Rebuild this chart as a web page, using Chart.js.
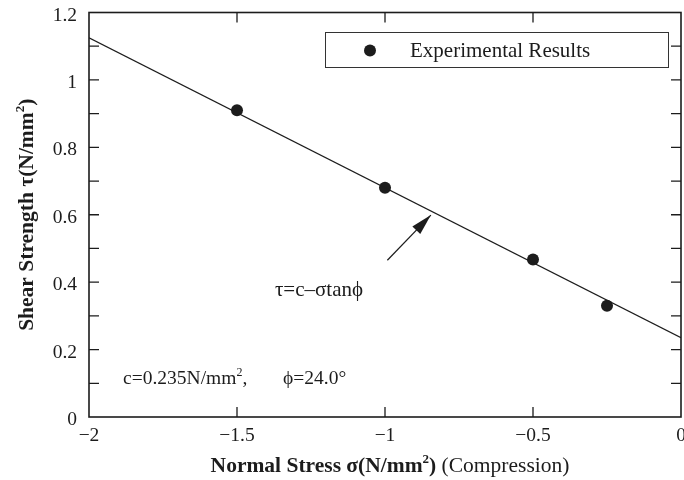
<!DOCTYPE html>
<html>
<head>
<meta charset="utf-8">
<script src="https://cdn.jsdelivr.net/npm/chart.js@4"></script>
<style>
  html, body { margin: 0; padding: 0; background: #fff; overflow: hidden; }
  #wrap { width: 687px; height: 480px; }
</style>
</head>
<body>
<div id="wrap"><canvas id="chartCanvas" width="687" height="480"></canvas></div>
<script>
// measured points (normal stress, shear strength)
const sigma = [-1.5, -1.0, -0.5, -0.25];
const tau = [0.91, 0.68, 0.467, 0.33];

// fitted line tau = c - sigma tan(phi), end points
const fitX = [-2, 0];
const fitY = [1.125, 0.235];

const xTickVals = [-2, -1.5, -1, -0.5, 0];
const xTickLabels = ["\u22122", "\u22121.5", "\u22121", "\u22120.5", "0"];
const yTickVals = [0, 0.2, 0.4, 0.6, 0.8, 1.0, 1.2];
const yTickLabels = ["0", "0.2", "0.4", "0.6", "0.8", "1", "1.2"];
const yMinorVals = [0.1, 0.2, 0.3, 0.4, 0.5, 0.6, 0.7, 0.8, 0.9, 1.0, 1.1];
const xMinorVals = [-1.5, -1, -0.5];

const INK = "#1c1c1c";
const SERIF = "'Liberation Serif', 'DejaVu Serif', serif";
const noPad = () => ({ left: 0, right: 0, top: 0, bottom: 0 });

// draw a run of [text, bold, superscript] pieces starting at x
function drawRuns(ctx, runs, x, y, size) {
    let cx = x;
    runs.forEach(([txt, bold, sup]) => {
        const fs = sup ? Math.round(size * 0.62) : size;
        ctx.font = (bold ? "bold " : "") + fs + "px " + SERIF;
        ctx.fillText(txt, cx, sup ? y - size * 0.4 : y);
        cx += ctx.measureText(txt).width;
    });
    return cx - x;
}
function runsWidth(ctx, runs, size) {
    let w = 0;
    runs.forEach(([txt, bold, sup]) => {
        const fs = sup ? Math.round(size * 0.62) : size;
        ctx.font = (bold ? "bold " : "") + fs + "px " + SERIF;
        w += ctx.measureText(txt).width;
    });
    return w;
}

const framePlugin = {
    id: "frame",
    afterDraw(chart) {
        const { ctx, chartArea: a, scales } = chart;
        const xs = scales.x, ys = scales.y;
        ctx.save();
        ctx.strokeStyle = INK;
        ctx.fillStyle = INK;

        // frame
        ctx.lineWidth = 1.6;
        ctx.strokeRect(a.left, a.top, a.right - a.left, a.bottom - a.top);

        // inward tick marks
        ctx.lineWidth = 1.3;
        ctx.beginPath();
        yMinorVals.forEach(v => {
            const p = ys.getPixelForValue(v);
            ctx.moveTo(a.left, p); ctx.lineTo(a.left + 10, p);
            ctx.moveTo(a.right, p); ctx.lineTo(a.right - 10, p);
        });
        xMinorVals.forEach(v => {
            const p = xs.getPixelForValue(v);
            ctx.moveTo(p, a.bottom); ctx.lineTo(p, a.bottom - 10);
            ctx.moveTo(p, a.top); ctx.lineTo(p, a.top + 10);
        });
        ctx.stroke();

        // legend box
        ctx.lineWidth = 1;
        ctx.strokeStyle = "#333";
        ctx.strokeRect(325.5, 32.5, 343, 35);
        ctx.beginPath();
        ctx.arc(370, 50.5, 6, 0, Math.PI * 2);
        ctx.fill();
        ctx.font = "21px " + SERIF;
        ctx.textBaseline = "middle";
        ctx.textAlign = "left";
        ctx.fillText("Experimental Results", 410, 51);

        // equation label and arrow
        ctx.fillText("\u03C4=c\u2013\u03C3tan\u03D5", xs.getPixelForValue(-1.372), ys.getPixelForValue(0.376));
        const ax0 = xs.getPixelForValue(-0.992), ay0 = ys.getPixelForValue(0.465);
        const ax1 = xs.getPixelForValue(-0.845), ay1 = ys.getPixelForValue(0.599);
        ctx.strokeStyle = INK;
        ctx.lineWidth = 1.2;
        ctx.beginPath();
        ctx.moveTo(ax0, ay0); ctx.lineTo(ax1, ay1);
        ctx.stroke();
        const ang = Math.atan2(ay1 - ay0, ax1 - ax0);
        const hl = 21, hw = 5.5;
        ctx.beginPath();
        ctx.moveTo(ax1, ay1);
        ctx.lineTo(ax1 - hl * Math.cos(ang) + hw * Math.sin(ang), ay1 - hl * Math.sin(ang) - hw * Math.cos(ang));
        ctx.lineTo(ax1 - hl * Math.cos(ang) - hw * Math.sin(ang), ay1 - hl * Math.sin(ang) + hw * Math.cos(ang));
        ctx.closePath();
        ctx.fill();

        // parameters
        ctx.textBaseline = "alphabetic";
        const px = xs.getPixelForValue(-1.885), py = ys.getPixelForValue(0.116) + 6;
        drawRuns(ctx, [["c=0.235N/mm", false, false], ["2", false, true], [",", false, false]], px, py, 19.5);
        drawRuns(ctx, [["\u03D5=24.0\u00B0", false, false]], 283, py, 19.5);

        // x axis title
        const xRuns = [["Normal Stress \u03C3(N/mm", true, false], ["2", true, true], [")", true, false], [" (Compression)", false, false]];
        const xw = runsWidth(ctx, xRuns, 21.5);
        drawRuns(ctx, xRuns, 390 - xw / 2, 472, 21.5);

        // y axis title
        const yRuns = [["Shear Strength \u03C4(N/mm", true, false], ["2", true, true], [")", true, false]];
        const yw = runsWidth(ctx, yRuns, 21.5);
        ctx.translate(33, (a.top + a.bottom) / 2);
        ctx.rotate(-Math.PI / 2);
        drawRuns(ctx, yRuns, -yw / 2, 0, 21.5);
        ctx.restore();
    }
};

new Chart(document.getElementById("chartCanvas").getContext("2d"), {
    type: "scatter",
    data: {
        datasets: [
            {
                label: "fit",
                data: fitX.map((x, i) => ({ x: x, y: fitY[i] })),
                showLine: true,
                borderColor: INK,
                borderWidth: 1.2,
                pointRadius: 0,
                fill: false,
            },
            {
                label: "Experimental Results",
                data: sigma.map((x, i) => ({ x: x, y: tau[i] })),
                pointRadius: 6,
                pointBackgroundColor: INK,
                pointBorderWidth: 0,
                showLine: false,
            },
        ],
    },
    options: {
        responsive: false,
        animation: false,
        layout: { padding: { top: 12.5, right: 3, left: 0, bottom: 0 } },
        plugins: { legend: { display: false }, tooltip: { enabled: false } },
        scales: {
            x: {
                type: "linear",
                min: -2,
                max: 0,
                grid: { display: false, drawTicks: false },
                border: { display: false },
                afterBuildTicks: (s) => { s.ticks = xTickVals.map(v => ({ value: v })); },
                afterFit: (s) => { s.height = 63; s.paddingLeft = 0; s.paddingRight = 0; s.getPadding = noPad; },
                ticks: {
                    autoSkip: false,
                    maxRotation: 0,
                    padding: 7,
                    color: INK,
                    font: { family: SERIF, size: 19.5 },
                    callback: (v, i) => xTickLabels[i],
                },
            },
            y: {
                type: "linear",
                min: 0,
                max: 1.2,
                grid: { display: false, drawTicks: false },
                border: { display: false },
                afterBuildTicks: (s) => { s.ticks = yTickVals.map(v => ({ value: v })); },
                afterFit: (s) => { s.width = 89; s.paddingTop = 0; s.paddingBottom = 0; s.getPadding = noPad; },
                ticks: {
                    autoSkip: false,
                    padding: 12,
                    labelOffset: 3,
                    color: INK,
                    font: { family: SERIF, size: 19.5 },
                    callback: (v, i) => yTickLabels[i],
                },
            },
        },
    },
    plugins: [framePlugin],
});
</script>
</body>
</html>
